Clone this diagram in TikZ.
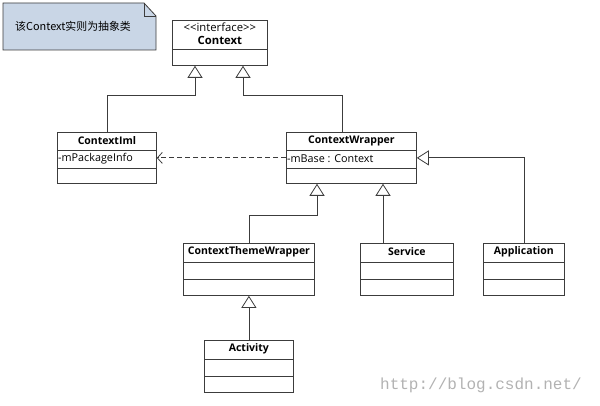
\documentclass[tikz,border=0pt]{standalone}
\usepackage{fontspec}
\setmainfont{Open Sans}
\newfontfamily\cjk{Noto Sans CJK SC}
\newfontfamily\wmfont{Liberation Mono}
\usetikzlibrary{arrows.meta,calc}

\definecolor{notefill}{HTML}{C9D6E6}
\definecolor{umlline}{HTML}{3C3C3C}

% divider line inside a class box, #2 pt below its top
\newcommand{\clsrule}[2]{\draw[umlline,line width=0.8pt] ($(#1.north west)+(0,#2)$) -- ($(#1.north east)+(0,#2)$);}

\begin{document}
\begin{tikzpicture}[x=1pt,y=-1pt,
    cls/.style={draw=umlline,line width=0.8pt,fill=white,inner sep=0pt,anchor=north west},
    ctitle/.style={font=\bfseries\fontsize{10.5}{12}\selectfont,inner sep=0pt},
    attr/.style={font=\fontsize{10.8}{12}\selectfont,inner sep=0pt,anchor=west},
    inh/.style={draw=umlline,line width=0.8pt,-{Triangle[open,length=12pt,width=15pt]}},
    dep/.style={draw=umlline,line width=0.8pt,dash pattern=on 5pt off 3pt,-{Straight Barb[length=5pt,width=11pt]}}]

\useasboundingbox (0,0) rectangle (600,406);

% the note
\draw[umlline,line width=0.8pt,fill=notefill] (3,3) -- (144,3) -- (156,16) -- (156,50) -- (3,50) -- cycle;
\draw[umlline,line width=0.8pt] (144,3) -- (144,16) -- (156,16);
\node[inner sep=0pt,anchor=west,font=\cjk\fontsize{10.9}{12}\selectfont] (note) at (15,26) {该Context实则为抽象类};

% class boxes
\node[cls,minimum width=95,minimum height=45] (ctx) at (172,20) {};
\node[cls,minimum width=99,minimum height=51] (iml) at (57,132) {};
\node[cls,minimum width=130,minimum height=51] (wrap) at (286,132) {};
\node[cls,minimum width=131,minimum height=52] (theme) at (183,243) {};
\node[cls,minimum width=93,minimum height=52] (svc) at (360,243) {};
\node[cls,minimum width=81,minimum height=52] (app) at (483,243) {};
\node[cls,minimum width=89,minimum height=52] (act) at (204,340) {};

\clsrule{ctx}{29}
\clsrule{iml}{18} \clsrule{iml}{36}
\clsrule{wrap}{18} \clsrule{wrap}{36}
\clsrule{theme}{19} \clsrule{theme}{36}
\clsrule{svc}{19} \clsrule{svc}{36}
\clsrule{app}{19} \clsrule{app}{36}
\clsrule{act}{19} \clsrule{act}{36}

% names and fields
\node[inner sep=0pt,font=\fontsize{11.3}{12}\selectfont] (ctx-s) at ($(ctx.north)+(0,7)$) {<{}<interface>{}>};
\node[ctitle,font=\bfseries\fontsize{11.3}{12}\selectfont] (ctx-t) at ($(ctx.north)+(0,20)$) {Context};
\node[ctitle] (iml-t) at ($(iml.north)+(0,9)$) {ContextIml};
\node[ctitle] (wrap-t) at ($(wrap.north)+(0,9)$) {ContextWrapper};
\node[ctitle] (theme-t) at ($(theme.north)+(0,9)$) {ContextThemeWrapper};
\node[ctitle] (svc-t) at ($(svc.north)+(0,9)$) {Service};
\node[ctitle] (app-t) at ($(app.north)+(0,9)$) {Application};
\node[ctitle] (act-t) at ($(act.north)+(0,9)$) {Activity};
\node[attr] (iml-a) at ($(iml.north west)+(1,27)$) {-mPackageInfo};
\node[attr] (wrap-a) at ($(wrap.north west)+(1,27)$) {-mBase : Context};

% inheritance
\coordinate (j1) at (195,95);
\coordinate (j2) at (243,95);
\coordinate (j3) at (317,215);
\coordinate (w1) at ($(wrap.north)+(-9,0)$);
\coordinate (s1) at ($(svc.north west)+(23,0)$);
\draw[inh] (iml.north) |- (j1) -- (j1 |- ctx.south);
\draw[inh] (w1) |- (j2) -- (j2 |- ctx.south);
\draw[inh] (theme.north) |- (j3) -- (j3 |- wrap.south);
\draw[inh] (s1) -- (s1 |- wrap.south);
\draw[inh] (app.north) |- (wrap.east);
\draw[inh] (act.north) -- (theme.south);

% dependency
\draw[dep] (wrap.west) -- (iml.east);

% watermark
\node[inner sep=0pt,text=black!30,font=\wmfont\fontsize{16}{18}\selectfont] (wm) at (481,385) {http://blog.csdn.net/};

\end{tikzpicture}
\end{document}
